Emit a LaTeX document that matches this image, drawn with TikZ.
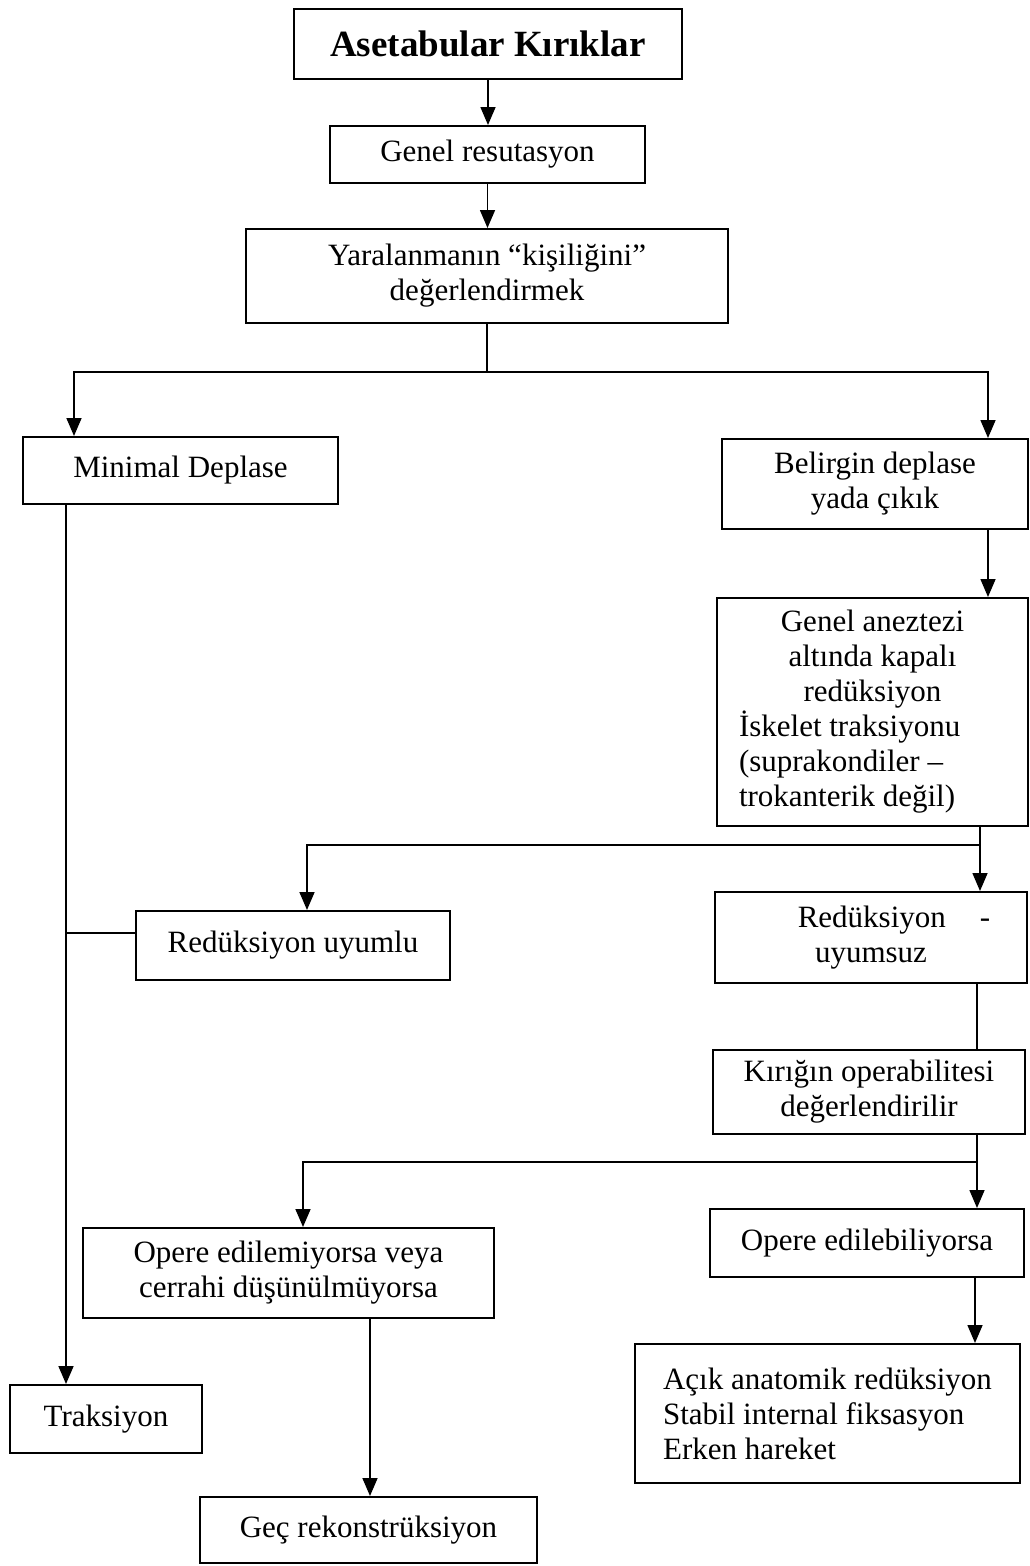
\documentclass[tikz,border=0pt]{standalone}
\usepackage{fontspec}
\setmainfont{Liberation Serif}
\usetikzlibrary{arrows.meta,calc}
\begin{document}
\begin{tikzpicture}[x=1pt,y=-1pt,
  box/.style={draw, line width=2pt, inner sep=0pt, align=center, font=\fontsize{31}{35}\selectfont},
  conn/.style={line width=1.6pt},
  arr/.style={conn, -{Triangle[length=18pt,width=15pt]}}]
\fill[white] (0,0) rectangle (1030,1566);
\useasboundingbox (0,0) rectangle (1030,1566);

\node[box, minimum width=388pt, minimum height=70pt, font=\fontsize{37}{42}\selectfont\bfseries] (A) at (488,44) {Asetabular Kırıklar};
\node[box, minimum width=315pt, minimum height=57pt] (G) at (487.5,154.5) {Genel resutasyon};
\node[box, minimum width=482pt, minimum height=94pt] (Y) at (487,276) {Yaralanmanın “kişiliğini”\\değerlendirmek};
\node[box, minimum width=315pt, minimum height=67pt] (M) at (180.5,470.5) {Minimal Deplase};
\node[box, minimum width=306pt, minimum height=90pt] (B) at (875,484) {Belirgin deplase\\yada çıkık};
\node[box, minimum width=311pt, minimum height=228pt, text width=267pt, inner xsep=22pt, align=flush left] (GA) at (872.5,712)
  {{\centering Genel aneztezi\\altında kapalı\\redüksiyon\par}İskelet traksiyonu\\(suprakondiler –\\trokanterik değil)};
\node[box, minimum width=314pt, minimum height=69pt] (RU) at (293,945.5) {Redüksiyon uyumlu};
\node[box, minimum width=312pt, minimum height=91pt] (RZ) at (871,937.5) {\hspace*{46pt}Redüksiyon\hspace{34pt}-\\uyumsuz};
\node[box, minimum width=312pt, minimum height=84pt] (K) at (869,1092) {Kırığın operabilitesi\\değerlendirilir};
\node[box, minimum width=411pt, minimum height=90pt] (OE) at (288.5,1273) {Opere edilemiyorsa veya\\cerrahi düşünülmüyorsa};
\node[box, minimum width=314pt, minimum height=68pt] (OB) at (867,1243) {Opere edilebiliyorsa};
\node[box, minimum width=192pt, minimum height=68pt] (T) at (106,1419) {Traksiyon};
\node[box, minimum width=385pt, minimum height=139pt, align=left] (AC) at (827.5,1413.5) {Açık anatomik redüksiyon\\Stabil internal fiksasyon\\Erken hareket};
\node[box, minimum width=337pt, minimum height=66pt] (GR) at (368.5,1530) {Geç rekonstrüksiyon};

\draw[arr] (A.south) -- (A.south |- G.north);
\draw[arr] (G.south) -- (G.south |- Y.north);

\coordinate (s1) at (484,372);
\draw[conn] (Y.south) -- (Y.south |- s1);
\draw[arr] (Y.south |- s1) -| ([xshift=-106.5pt]M.north);
\draw[arr] (Y.south |- s1) -| ([xshift=113pt]B.north);
\draw[arr] ([xshift=113pt]B.south) -- ([xshift=113pt]B.south |- GA.north);

\coordinate (s2) at (980,845);
\draw[arr] (s2 |- GA.south) -- (s2 |- RZ.north);
\draw[arr] (s2) -| ([xshift=14pt]RU.north);

\coordinate (tr) at (66,900);
\draw[arr] (tr |- M.south) -- (tr |- T.north);
\draw[conn] ([yshift=12.5pt]RU.west) -- ([yshift=12.5pt]RU.west -| tr);

\coordinate (s3) at (977,1162);
\draw[conn] (s3 |- RZ.south) -- (s3 |- K.north);
\draw[arr] (s3 |- K.south) -- (s3 |- OB.north);
\draw[arr] (s3) -| ([xshift=14.5pt]OE.north);
\draw[arr] ([xshift=108pt]OB.south) -- ([xshift=108pt]OB.south |- AC.north);
\draw[arr] ([xshift=81.5pt]OE.south) -- ([xshift=81.5pt]OE.south |- GR.north);
\end{tikzpicture}
\end{document}
